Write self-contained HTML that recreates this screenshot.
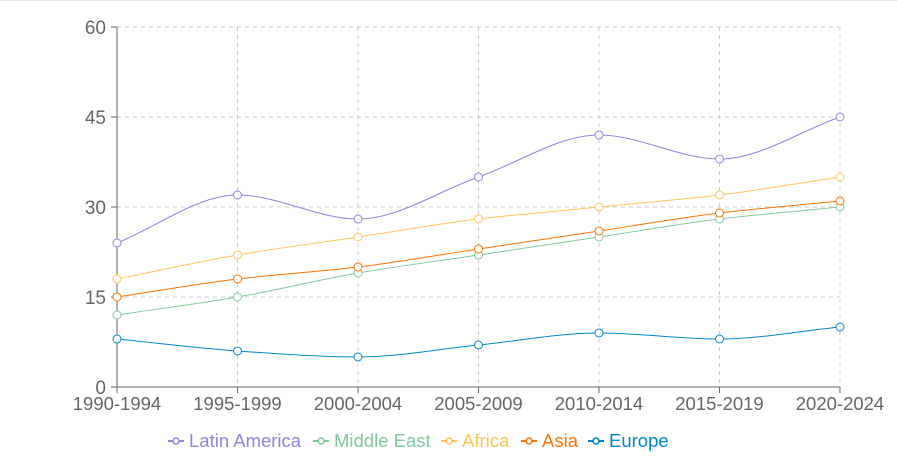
<!DOCTYPE html>
<html><head><meta charset="utf-8"><style>
body{margin:0;background:#fff;width:897px;height:467px;overflow:hidden;font-family:"Liberation Sans",sans-serif}
svg text{font-family:"Liberation Sans",sans-serif}
</style></head><body>
<svg id="c" width="897" height="467" xmlns="http://www.w3.org/2000/svg">
<line x1="0" y1="0.5" x2="897" y2="0.5" stroke="#e6e6e6"/>
<g id="grid" stroke="#ccc" stroke-dasharray="4 4" fill="none"></g>
<g id="axes"></g>
<g id="series"></g>
<g id="legend"></g>
</svg>
<script>
const NS="http://www.w3.org/2000/svg";
const xs=[117,237.5,358,478.5,599,719.5,840];
const y=v=>387-v*6;
const labels=["1990-1994","1995-1999","2000-2004","2005-2009","2010-2014","2015-2019","2020-2024"];
function el(p,t,a,txt){const e=document.createElementNS(NS,t);for(const k in a)e.setAttribute(k,a[k]);if(txt)e.textContent=txt;p.appendChild(e);return e;}
const g=document.getElementById('grid'),ax=document.getElementById('axes');
[0,15,30,45,60].forEach(v=>{if(v>0)el(g,'line',{x1:117,x2:840,y1:y(v),y2:y(v)});});
xs.forEach((x,i)=>{if(i>0)el(g,'line',{x1:x,x2:x,y1:27,y2:387});});
el(ax,'line',{x1:117,x2:117,y1:27,y2:387,stroke:'#666'});
el(ax,'line',{x1:117,x2:840,y1:387,y2:387,stroke:'#666'});
[0,15,30,45,60].forEach(v=>{el(ax,'line',{x1:111,x2:117,y1:y(v),y2:y(v),stroke:'#666'});el(ax,'text',{x:106,y:y(v)+7,'text-anchor':'end','font-size':19,fill:'#666'},String(v));});
xs.forEach((x,i)=>{el(ax,'line',{x1:x,x2:x,y1:387,y2:393,stroke:'#666'});el(ax,'text',{x:x,y:410,'text-anchor':'middle','font-size':18.5,fill:'#666'},labels[i]);});
const S=[["Latin America","#8f84de",[24,32,28,35,42,38,45]],["Middle East","#82ca9d",[12,15,19,22,25,28,30]],["Africa","#ffc658",[18,22,25,28,30,32,35]],["Asia","#ff7300",[15,18,20,23,26,29,31]],["Europe","#0088cc",[8,6,5,7,9,8,10]]];
function mono(px,py){const n=px.length,d=[],m=[];for(let i=0;i<n-1;i++)d.push((py[i+1]-py[i])/(px[i+1]-px[i]));
m[0]=d[0];m[n-1]=d[n-2];for(let i=1;i<n-1;i++){m[i]=d[i-1]*d[i]<=0?0:(3*(px[i+1]-px[i-1]))/((2*px[i+1]-px[i]-px[i-1])/d[i-1]+(px[i+1]+px[i]-2*px[i-1])/d[i]);}
let s=`M${px[0]},${py[0]}`;for(let i=0;i<n-1;i++){const h=(px[i+1]-px[i])/3;s+=`C${px[i]+h},${py[i]+m[i]*h} ${px[i+1]-h},${py[i+1]-m[i+1]*h} ${px[i+1]},${py[i+1]}`;}return s;}
const sg=document.getElementById('series');
S.forEach(([n,c,d])=>{const py=d.map(y);el(sg,'path',{d:mono(xs,py),stroke:c,fill:'none','stroke-width':1});
xs.forEach((x,i)=>el(sg,'circle',{cx:x,cy:py[i],r:4,fill:'#fff',stroke:c,'stroke-width':1}));});
const lg=document.getElementById('legend');
const lx=[168,313,441,521,588];
S.forEach(([n,c],i)=>{const x=lx[i];el(lg,'line',{x1:x,x2:x+16,y1:441,y2:441,stroke:c,'stroke-width':2});el(lg,'circle',{cx:x+8,cy:441,r:3,fill:'#fff',stroke:c,'stroke-width':1.5});
el(lg,'text',{x:x+21,y:447,'font-size':18.5,fill:c},n);});
</script>
</body></html>
